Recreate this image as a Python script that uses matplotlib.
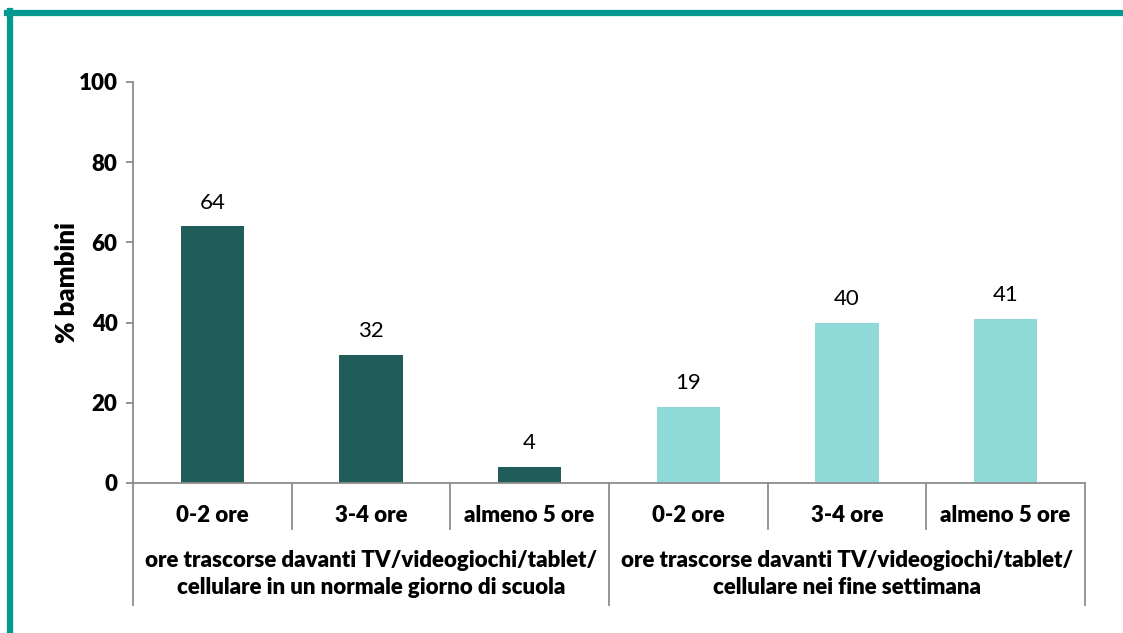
import matplotlib.pyplot as plt
from matplotlib.lines import Line2D

# dati
ore = ["0-2 ore", "3-4 ore", "almeno 5 ore", "0-2 ore", "3-4 ore", "almeno 5 ore"]
valori = [64, 32, 4, 19, 40, 41]
colori = ["#1f5c5a"] * 3 + ["#8fdad8"] * 3
gruppi = ["ore trascorse davanti TV/videogiochi/tablet/\ncellulare in un normale giorno di scuola",
          "ore trascorse davanti TV/videogiochi/tablet/\ncellulare nei fine settimana"]

plt.rcParams["font.family"] = ["Lato", "DejaVu Sans"]

fig = plt.figure(figsize=(11.23, 6.33), dpi=100)
ax = fig.add_axes([0.1184, 0.237, 0.8477, 0.6335])

x = list(range(len(valori)))
bars = ax.bar(x, valori, width=0.4, color=colori)

for b in bars:
    ax.text(b.get_x() + b.get_width() / 2, b.get_height() + 3.4, str(int(b.get_height())),
            ha="center", va="bottom", fontsize=16)

ax.set_xlim(-0.5, 5.5)
ax.set_ylim(0, 100)
ax.set_yticks([0, 20, 40, 60, 80, 100])
ax.set_yticklabels([0, 20, 40, 60, 80, 100], fontsize=16, fontweight="heavy")
ax.set_xticks([])
ax.set_ylabel("% bambini", fontsize=18.5, fontweight="heavy", labelpad=0)

for s in ["top", "right"]:
    ax.spines[s].set_visible(False)
for s in ["left", "bottom"]:
    ax.spines[s].set_color("#8c8c8c")
    ax.spines[s].set_linewidth(1.3)
ax.tick_params(axis="y", length=5, color="#8c8c8c", width=1.3, pad=6)

# categorie e separatori
tr = ax.get_xaxis_transform()
for i, lab in enumerate(ore):
    ax.text(i, -0.08, lab, transform=tr, ha="center", va="center", fontsize=16, fontweight="heavy")
for i in range(7):
    y_fine = -0.305 if i in (0, 3, 6) else -0.115
    ax.plot([i - 0.5, i - 0.5], [0, y_fine], transform=tr, color="#8c8c8c", lw=1.3, clip_on=False)
for g, lab in enumerate(gruppi):
    ax.text(1 + 3 * g, -0.227, lab, transform=tr, ha="center", va="center", fontsize=16,
            fontweight="heavy", linespacing=1.4)

# cornice
fig.add_artist(Line2D([0.006, 1], [0.9795, 0.9795], color="#009990", lw=4.5))
fig.add_artist(Line2D([0.0085, 0.0085], [0, 0.982], color="#009990", lw=4.5))

plt.savefig("out.png", dpi=100)
